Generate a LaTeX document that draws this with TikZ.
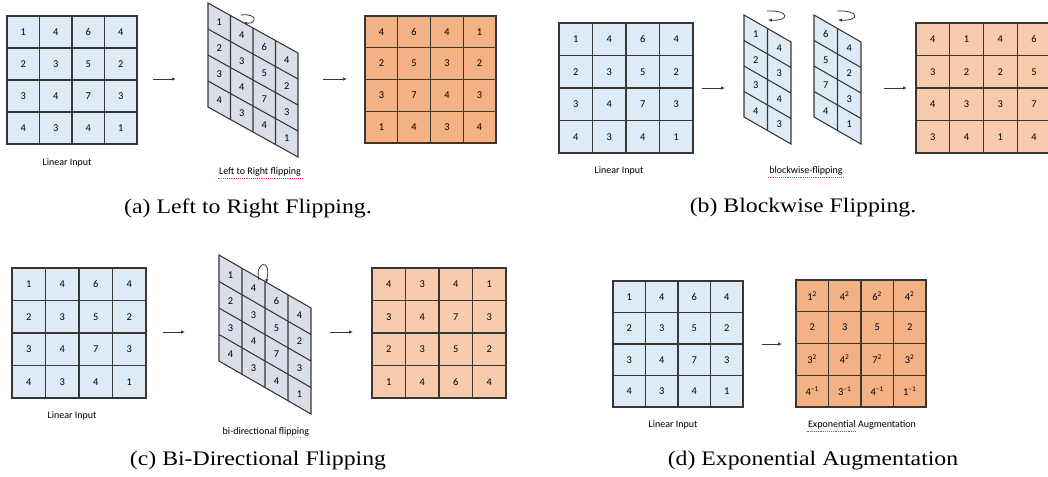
\documentclass[tikz,border=0pt]{standalone}
\usepackage{fontspec}
\setmainfont{Liberation Serif}
\newfontfamily\carlito{Carlito}
\newfontfamily\capfont[FakeStretch=1.15]{Liberation Serif}
\usetikzlibrary{arrows.meta}

\definecolor{inblue}{RGB}{222,235,247}
\definecolor{skewgray}{RGB}{217,222,233}
\definecolor{deeporange}{RGB}{244,177,131}
\definecolor{paleorange}{RGB}{248,203,173}
\definecolor{gridgray}{RGB}{55,55,55}
\definecolor{squigred}{RGB}{215,70,70}

\tikzset{every picture/.style={line width=0.75pt}}
\tikzset{
  gridline/.style={draw=gridgray, line width=0.8pt},
  num/.style={inner sep=0.75pt, font=\carlito\fontsize{7.8}{9}\selectfont},
  lbl/.style={inner sep=0.75pt, font=\carlito\fontsize{7.5}{9}\selectfont},
  captext/.style={inner sep=0.75pt, font=\capfont\fontsize{15.5}{18}\selectfont},
  flow/.style={draw=gridgray, line width=0.6pt, -{Latex[length=3pt,width=2.6pt]}},
  spin/.style={draw=gridgray, line width=0.6pt, -{Latex[length=3pt,width=2.6pt]}},
  squig/.style={draw=squigred, line width=0.4pt, densely dotted}
}

\begin{document}
\begin{tikzpicture}[x=0.75pt,y=0.75pt,yscale=-1,xscale=1]
\clip (0,0) rectangle (1048,476); %set diagram size 1048 x 476

%%%%%%%%%% (a) left to right flipping

%Shape: Grid [A]
\draw [gridline, fill=inblue] (7,16) rectangle (137,144) ;
\draw [gridline] (39.5,16) -- (39.5,144) (72,16) -- (72,144) (104.5,16) -- (104.5,144) (7,48) -- (137,48) (7,80) -- (137,80) (7,112) -- (137,112) ;
% Text Node
\draw (23.25,32) node [num] (a11) {1} (55.75,32) node [num] (a12) {4} (88.25,32) node [num] (a13) {6} (120.75,32) node [num] (a14) {4} ;
\draw (23.25,64) node [num] (a21) {2} (55.75,64) node [num] (a22) {3} (88.25,64) node [num] (a23) {5} (120.75,64) node [num] (a24) {2} ;
\draw (23.25,96) node [num] (a31) {3} (55.75,96) node [num] (a32) {4} (88.25,96) node [num] (a33) {7} (120.75,96) node [num] (a34) {3} ;
\draw (23.25,128) node [num] (a41) {4} (55.75,128) node [num] (a42) {3} (88.25,128) node [num] (a43) {4} (120.75,128) node [num] (a44) {1} ;
% Text Node
\draw (67,163) node [lbl] (labA) {Linear Input} ;

%Straight Lines
\coordinate (a1s) at (153,79) ;
\coordinate (a1e) at (176,79) ;
\draw [flow] (a1s) -- (a1e) ;

%Shape: Skewed Grid [SA]
\draw [gridline, fill=skewgray] (208,3) -- (298,53) -- (298,157) -- (208,107) -- cycle ;
\draw [gridline] (230.5,15.5) -- (230.5,119.5) (253,28) -- (253,132) (275.5,40.5) -- (275.5,144.5) (208,29) -- (298,79) (208,55) -- (298,105) (208,81) -- (298,131) ;
% Text Node
\draw (219.25,22.25) node [num] (sa11) {1} (219.25,48.25) node [num] (sa21) {2} (219.25,74.25) node [num] (sa31) {3} (219.25,100.25) node [num] (sa41) {4} ;
\draw (241.75,34.75) node [num] (sa12) {4} (241.75,60.75) node [num] (sa22) {3} (241.75,86.75) node [num] (sa32) {4} (241.75,112.75) node [num] (sa42) {3} ;
\draw (264.25,47.25) node [num] (sa13) {6} (264.25,73.25) node [num] (sa23) {5} (264.25,99.25) node [num] (sa33) {7} (264.25,125.25) node [num] (sa43) {4} ;
\draw (286.75,59.75) node [num] (sa14) {4} (286.75,85.75) node [num] (sa24) {2} (286.75,111.75) node [num] (sa34) {3} (286.75,137.75) node [num] (sa44) {1} ;
%Curve Lines
\draw [spin] (241,15) .. controls (258,13) and (257,24) .. (243,23) ;
% Text Node
\draw (260,172) node [lbl] (labSA) {Left to Right flipping} ;
\draw [squig] (labSA.south west) -- (labSA.south east) ;

%Straight Lines
\coordinate (a2s) at (323,79) ;
\coordinate (a2e) at (347,79) ;
\draw [flow] (a2s) -- (a2e) ;

%Shape: Grid [OA]
\draw [gridline, fill=deeporange] (365,16) rectangle (496,143) ;
\draw [gridline] (397.75,16) -- (397.75,143) (430.5,16) -- (430.5,143) (463.25,16) -- (463.25,143) (365,47.75) -- (496,47.75) (365,79.5) -- (496,79.5) (365,111.25) -- (496,111.25) ;
% Text Node
\draw (381.4,31.9) node [num] (oa11) {4} (414.1,31.9) node [num] (oa12) {6} (446.9,31.9) node [num] (oa13) {4} (479.6,31.9) node [num] (oa14) {1} ;
\draw (381.4,63.6) node [num] (oa21) {2} (414.1,63.6) node [num] (oa22) {5} (446.9,63.6) node [num] (oa23) {3} (479.6,63.6) node [num] (oa24) {2} ;
\draw (381.4,95.4) node [num] (oa31) {3} (414.1,95.4) node [num] (oa32) {7} (446.9,95.4) node [num] (oa33) {4} (479.6,95.4) node [num] (oa34) {3} ;
\draw (381.4,127.1) node [num] (oa41) {1} (414.1,127.1) node [num] (oa42) {4} (446.9,127.1) node [num] (oa43) {3} (479.6,127.1) node [num] (oa44) {4} ;

% Text Node
\draw (248,208) node [captext] (capA) {(a) Left to Right Flipping.} ;

%%%%%%%%%% (b) blockwise flipping

%Shape: Grid [B]
\draw [gridline, fill=inblue] (559,23) rectangle (693,153) ;
\draw [gridline] (592.5,23) -- (592.5,153) (626,23) -- (626,153) (659.5,23) -- (659.5,153) (559,55.5) -- (693,55.5) (559,88) -- (693,88) (559,120.5) -- (693,120.5) ;
% Text Node
\draw (575.75,39.25) node [num] (b11) {1} (609.25,39.25) node [num] (b12) {4} (642.75,39.25) node [num] (b13) {6} (676.25,39.25) node [num] (b14) {4} ;
\draw (575.75,71.75) node [num] (b21) {2} (609.25,71.75) node [num] (b22) {3} (642.75,71.75) node [num] (b23) {5} (676.25,71.75) node [num] (b24) {2} ;
\draw (575.75,104.25) node [num] (b31) {3} (609.25,104.25) node [num] (b32) {4} (642.75,104.25) node [num] (b33) {7} (676.25,104.25) node [num] (b34) {3} ;
\draw (575.75,136.75) node [num] (b41) {4} (609.25,136.75) node [num] (b42) {3} (642.75,136.75) node [num] (b43) {4} (676.25,136.75) node [num] (b44) {1} ;
% Text Node
\draw (619,171) node [lbl] (labB) {Linear Input} ;

%Straight Lines
\coordinate (b1s) at (702,88) ;
\coordinate (b1e) at (725,88) ;
\draw [flow] (b1s) -- (b1e) ;

%Shape: Skewed Block [SB1]
\draw [gridline, fill=inblue] (744,15) -- (791,42) -- (791,144) -- (744,117) -- cycle ;
\draw [gridline] (767.5,28.5) -- (767.5,130.5) (744,40.5) -- (791,67.5) (744,66) -- (791,93) (744,91.5) -- (791,118.5) ;
% Text Node
\draw (755.75,34.5) node [num] (sb11) {1} (755.75,60) node [num] (sb21) {2} (755.75,85.5) node [num] (sb31) {3} (755.75,111) node [num] (sb41) {4} ;
\draw (779.25,48) node [num] (sb12) {4} (779.25,73.5) node [num] (sb22) {3} (779.25,99) node [num] (sb32) {4} (779.25,124.5) node [num] (sb42) {3} ;
%Curve Lines
\draw [spin] (767,11) .. controls (790,10) and (790,21) .. (768,20) ;

%Shape: Skewed Block [SB2]
\draw [gridline, fill=inblue] (814,15) -- (861,42) -- (861,144) -- (814,117) -- cycle ;
\draw [gridline] (837.5,28.5) -- (837.5,130.5) (814,40.5) -- (861,67.5) (814,66) -- (861,93) (814,91.5) -- (861,118.5) ;
% Text Node
\draw (825.75,34.5) node [num] (sb13) {6} (825.75,60) node [num] (sb23) {5} (825.75,85.5) node [num] (sb33) {7} (825.75,111) node [num] (sb43) {4} ;
\draw (849.25,48) node [num] (sb14) {4} (849.25,73.5) node [num] (sb24) {2} (849.25,99) node [num] (sb34) {3} (849.25,124.5) node [num] (sb44) {1} ;
%Curve Lines
\draw [spin] (837,11) .. controls (860,10) and (860,21) .. (838,20) ;
% Text Node
\draw (806,171) node [lbl] (labSB) {blockwise-flipping} ;
\draw [squig] (labSB.south west) -- (labSB.south east) ;

%Straight Lines
\coordinate (b2s) at (884,88) ;
\coordinate (b2e) at (907,88) ;
\draw [flow] (b2s) -- (b2e) ;

%Shape: Grid [OB]
\draw [gridline, fill=paleorange] (916,23) rectangle (1050.8,153) ;
\draw [gridline] (949.7,23) -- (949.7,153) (983.4,23) -- (983.4,153) (1017.1,23) -- (1017.1,153) (916,55.5) -- (1050.8,55.5) (916,88) -- (1050.8,88) (916,120.5) -- (1050.8,120.5) ;
% Text Node
\draw (932.85,39.25) node [num] (ob11) {4} (966.55,39.25) node [num] (ob12) {1} (1000.25,39.25) node [num] (ob13) {4} (1033.95,39.25) node [num] (ob14) {6} ;
\draw (932.85,71.75) node [num] (ob21) {3} (966.55,71.75) node [num] (ob22) {2} (1000.25,71.75) node [num] (ob23) {2} (1033.95,71.75) node [num] (ob24) {5} ;
\draw (932.85,104.25) node [num] (ob31) {4} (966.55,104.25) node [num] (ob32) {3} (1000.25,104.25) node [num] (ob33) {3} (1033.95,104.25) node [num] (ob34) {7} ;
\draw (932.85,136.75) node [num] (ob41) {3} (966.55,136.75) node [num] (ob42) {4} (1000.25,136.75) node [num] (ob43) {1} (1033.95,136.75) node [num] (ob44) {4} ;

% Text Node
\draw (803,208) node [captext] (capB) {(b) Blockwise Flipping.} ;

%%%%%%%%%% (c) bi-directional flipping

%Shape: Grid [C]
\draw [gridline, fill=inblue] (12,268) rectangle (146,398) ;
\draw [gridline] (45.5,268) -- (45.5,398) (79,268) -- (79,398) (112.5,268) -- (112.5,398) (12,300.5) -- (146,300.5) (12,333) -- (146,333) (12,365.5) -- (146,365.5) ;
% Text Node
\draw (28.75,284.25) node [num] (c11) {1} (62.25,284.25) node [num] (c12) {4} (95.75,284.25) node [num] (c13) {6} (129.25,284.25) node [num] (c14) {4} ;
\draw (28.75,316.75) node [num] (c21) {2} (62.25,316.75) node [num] (c22) {3} (95.75,316.75) node [num] (c23) {5} (129.25,316.75) node [num] (c24) {2} ;
\draw (28.75,349.25) node [num] (c31) {3} (62.25,349.25) node [num] (c32) {4} (95.75,349.25) node [num] (c33) {7} (129.25,349.25) node [num] (c34) {3} ;
\draw (28.75,381.75) node [num] (c41) {4} (62.25,381.75) node [num] (c42) {3} (95.75,381.75) node [num] (c43) {4} (129.25,381.75) node [num] (c44) {1} ;
% Text Node
\draw (72,416) node [lbl] (labC) {Linear Input} ;

%Straight Lines
\coordinate (c1s) at (163,332) ;
\coordinate (c1e) at (185,332) ;
\draw [flow] (c1s) -- (c1e) ;

%Shape: Skewed Grid [SC]
\draw [gridline, fill=skewgray] (219,255) -- (311,308) -- (311,414) -- (219,361) -- cycle ;
\draw [gridline] (242,268.25) -- (242,374.25) (265,281.5) -- (265,387.5) (288,294.75) -- (288,400.75) (219,281.5) -- (311,334.5) (219,308) -- (311,361) (219,334.5) -- (311,387.5) ;
% Text Node
\draw (230.5,274.85) node [num] (sc11) {1} (230.5,301.35) node [num] (sc21) {2} (230.5,327.85) node [num] (sc31) {3} (230.5,354.35) node [num] (sc41) {4} ;
\draw (253.5,288.15) node [num] (sc12) {4} (253.5,314.65) node [num] (sc22) {3} (253.5,341.15) node [num] (sc32) {4} (253.5,367.65) node [num] (sc42) {3} ;
\draw (276.5,301.35) node [num] (sc13) {6} (276.5,327.85) node [num] (sc23) {5} (276.5,354.35) node [num] (sc33) {7} (276.5,380.85) node [num] (sc43) {4} ;
\draw (299.5,314.65) node [num] (sc14) {4} (299.5,341.15) node [num] (sc24) {2} (299.5,367.65) node [num] (sc34) {3} (299.5,394.15) node [num] (sc44) {1} ;
%Curve Lines
\draw [spin] (259,280) .. controls (254,262) and (272,257) .. (266,283) ;
% Text Node
\draw (266,432) node [lbl] (labSC) {bi-directional flipping} ;
\draw [squig] (287,437) -- (labSC.south east) ;

%Straight Lines
\coordinate (c2s) at (330,332) ;
\coordinate (c2e) at (353,332) ;
\draw [flow] (c2s) -- (c2e) ;

%Shape: Grid [OC]
\draw [gridline, fill=paleorange] (372,268) rectangle (506,398) ;
\draw [gridline] (405.5,268) -- (405.5,398) (439,268) -- (439,398) (472.5,268) -- (472.5,398) (372,300.5) -- (506,300.5) (372,333) -- (506,333) (372,365.5) -- (506,365.5) ;
% Text Node
\draw (388.75,284.25) node [num] (oc11) {4} (422.25,284.25) node [num] (oc12) {3} (455.75,284.25) node [num] (oc13) {4} (489.25,284.25) node [num] (oc14) {1} ;
\draw (388.75,316.75) node [num] (oc21) {3} (422.25,316.75) node [num] (oc22) {4} (455.75,316.75) node [num] (oc23) {7} (489.25,316.75) node [num] (oc24) {3} ;
\draw (388.75,349.25) node [num] (oc31) {2} (422.25,349.25) node [num] (oc32) {3} (455.75,349.25) node [num] (oc33) {5} (489.25,349.25) node [num] (oc34) {2} ;
\draw (388.75,381.75) node [num] (oc41) {1} (422.25,381.75) node [num] (oc42) {4} (455.75,381.75) node [num] (oc43) {6} (489.25,381.75) node [num] (oc44) {4} ;

% Text Node
\draw (258,461) node [captext] (capC) {(c) Bi-Directional Flipping} ;

%%%%%%%%%% (d) exponential augmentation

%Shape: Grid [D]
\draw [gridline, fill=inblue] (613,281) rectangle (743,407) ;
\draw [gridline] (645.5,281) -- (645.5,407) (678,281) -- (678,407) (710.5,281) -- (710.5,407) (613,312.5) -- (743,312.5) (613,344) -- (743,344) (613,375.5) -- (743,375.5) ;
% Text Node
\draw (629.25,296.75) node [num] (d11) {1} (661.75,296.75) node [num] (d12) {4} (694.25,296.75) node [num] (d13) {6} (726.75,296.75) node [num] (d14) {4} ;
\draw (629.25,328.25) node [num] (d21) {2} (661.75,328.25) node [num] (d22) {3} (694.25,328.25) node [num] (d23) {5} (726.75,328.25) node [num] (d24) {2} ;
\draw (629.25,359.75) node [num] (d31) {3} (661.75,359.75) node [num] (d32) {4} (694.25,359.75) node [num] (d33) {7} (726.75,359.75) node [num] (d34) {3} ;
\draw (629.25,391.25) node [num] (d41) {4} (661.75,391.25) node [num] (d42) {3} (694.25,391.25) node [num] (d43) {4} (726.75,391.25) node [num] (d44) {1} ;
% Text Node
\draw (673,425) node [lbl] (labD) {Linear Input} ;

%Straight Lines
\coordinate (d1s) at (762,344) ;
\coordinate (d1e) at (782,344) ;
\draw [flow] (d1s) -- (d1e) ;

%Shape: Grid [OD]
\draw [gridline, fill=deeporange] (796,280) rectangle (926,407) ;
\draw [gridline] (828.5,280) -- (828.5,407) (861,280) -- (861,407) (893.5,280) -- (893.5,407) (796,311.75) -- (926,311.75) (796,343.5) -- (926,343.5) (796,375.25) -- (926,375.25) ;
% Text Node
\draw (812.25,295.9) node [num] (od11) {1\textsuperscript{2}} (844.75,295.9) node [num] (od12) {4\textsuperscript{2}} (877.25,295.9) node [num] (od13) {6\textsuperscript{2}} (909.75,295.9) node [num] (od14) {4\textsuperscript{2}} ;
\draw (812.25,327.6) node [num] (od21) {2} (844.75,327.6) node [num] (od22) {3} (877.25,327.6) node [num] (od23) {5} (909.75,327.6) node [num] (od24) {2} ;
\draw (812.25,359.4) node [num] (od31) {3\textsuperscript{2}} (844.75,359.4) node [num] (od32) {4\textsuperscript{2}} (877.25,359.4) node [num] (od33) {7\textsuperscript{2}} (909.75,359.4) node [num] (od34) {3\textsuperscript{2}} ;
\draw (812.25,391.1) node [num] (od41) {4\textsuperscript{–1}} (844.75,391.1) node [num] (od42) {3\textsuperscript{–1}} (877.25,391.1) node [num] (od43) {4\textsuperscript{–1}} (909.75,391.1) node [num] (od44) {1\textsuperscript{–1}} ;
% Text Node
\draw (862,425) node [lbl] (labOD) {Exponential Augmentation} ;
\draw [squig] (labOD.south west) -- ++(49,0) ;

% Text Node
\draw (813,461) node [captext] (capD) {(d) Exponential Augmentation} ;

\end{tikzpicture}
\end{document}
